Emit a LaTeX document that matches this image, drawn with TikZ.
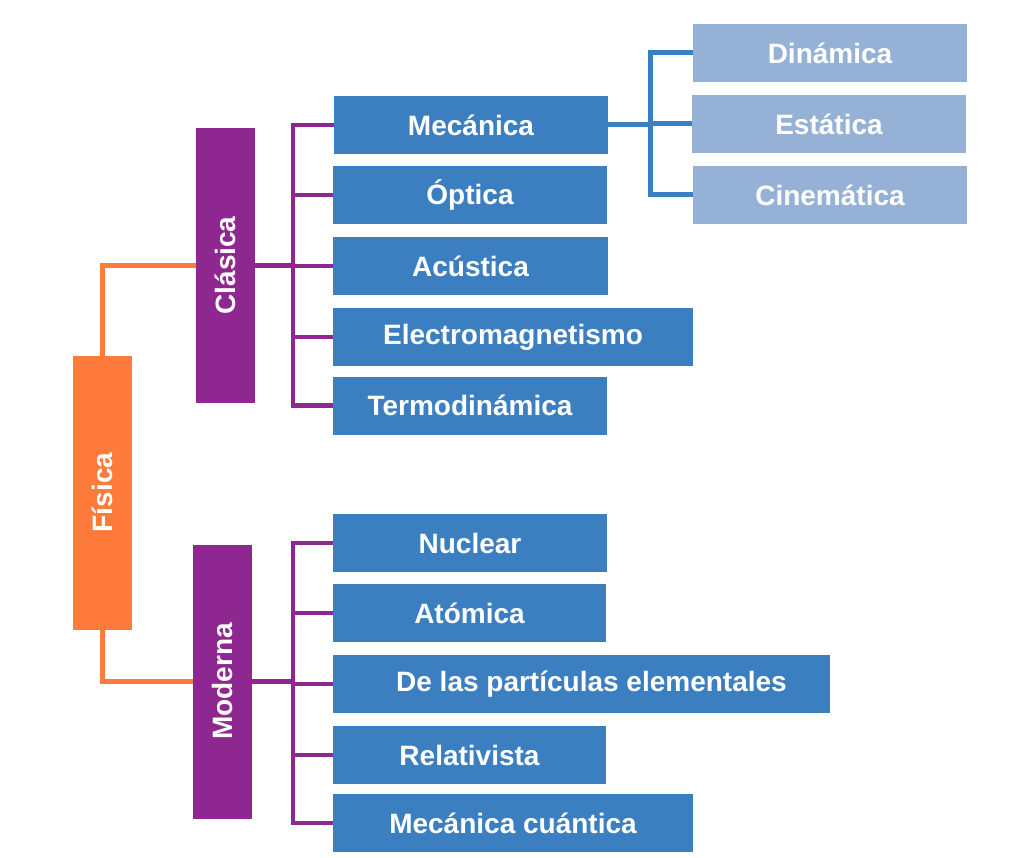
\documentclass[tikz,border=0pt]{standalone}
\usepackage{fontspec}
\setmainfont{Liberation Sans}
\definecolor{orng}{HTML}{FF7B3B}
\definecolor{purp}{HTML}{8E2790}
\definecolor{blu}{HTML}{3C7FC1}
\definecolor{lblu}{HTML}{95B1D6}
\tikzset{
  box/.style={fill=blu, inner sep=0pt, outer sep=0pt, minimum height=58pt, text=white, font=\bfseries\fontsize{28}{30}\selectfont},
  lbox/.style={box, fill=lblu},
  vbox/.style={inner sep=0pt, outer sep=0pt, minimum width=59pt, minimum height=274pt},
  vtxt/.style={rotate=90, text=white, font=\bfseries\fontsize{28}{30}\selectfont},
  ol/.style={draw=orng, line width=5pt},
  pl/.style={draw=purp, line width=4.5pt},
  bl/.style={draw=blu, line width=5pt},
}
\begin{document}
\begin{tikzpicture}[x=1pt,y=-1pt]
\useasboundingbox (0,0) rectangle (1035,858);
% vertical boxes
\node[vbox, fill=orng] (fis) at (102.5,492.5) {};
\node[vtxt] (fist) at (fis.center) {Física};
\node[vbox, fill=purp] (cla) at (225.5,265.5) {};
\node[vtxt] (clat) at (cla.center) {Clásica};
\node[vbox, fill=purp] (mod) at (222.5,681.5) {};
\node[vtxt] (modt) at (mod.center) {Moderna};
% classical branches
\node[box, minimum width=274pt] (mec) at (471,125) {Mecánica};
\node[box, minimum width=274pt] (opt) at (470,195) {Óptica};
\node[box, minimum width=275pt] (acu) at (470.5,266) {Acústica};
\node[box, minimum width=360pt] (ele) at (513,337) {Electromagnetismo};
\node[box, minimum width=274pt] (ter) at (470,405.5) {Termodinámica};
% modern branches
\node[box, minimum width=274pt] (nuc) at (470,543) {Nuclear};
\node[box, minimum width=273pt] (ato) at (469.5,613) {Atómica};
\node[box, minimum width=497pt] (par) at (581.5,684) {\hspace*{20pt}De las partículas elementales};
\node[box, minimum width=273pt] (rel) at (469.5,755) {Relativista};
\node[box, minimum width=360pt] (cua) at (513,823) {Mecánica cuántica};
% mechanics sub-branches
\node[lbox, minimum width=274pt] (din) at (830,53) {Dinámica};
\node[lbox, minimum width=274pt] (est) at (829,124) {Estática};
\node[lbox, minimum width=274pt] (cin) at (830,195) {Cinemática};
% bus coordinates
\coordinate (cb) at (293,0);
\coordinate (sb) at (650,0);
% orange connectors
\draw[ol] (cla.west) -| (fis.north);
\draw[ol] (mod.west) -| (fis.south);
% classical connectors
\draw[pl] (mec.west) -- (mec.west -| cb) -- (ter.west -| cb) -- (ter.west);
\draw[pl] (cla.east) -- (cla.east -| cb);
\draw[pl] (opt.west) -- (opt.west -| cb);
\draw[pl] (acu.west) -- (acu.west -| cb);
\draw[pl] (ele.west) -- (ele.west -| cb);
% modern connectors
\draw[pl] (nuc.west) -- (nuc.west -| cb) -- (cua.west -| cb) -- (cua.west);
\draw[pl] (mod.east) -- (mod.east -| cb);
\draw[pl] (ato.west) -- (ato.west -| cb);
\draw[pl] (par.west) -- (par.west -| cb);
\draw[pl] (rel.west) -- (rel.west -| cb);
% mechanics connectors
\draw[bl] (din.west) -- (din.west -| sb) -- (cin.west -| sb) -- (cin.west);
\draw[bl] (mec.east) -- (mec.east -| sb);
\draw[bl] (est.west) -- (est.west -| sb);
\end{tikzpicture}
\end{document}
